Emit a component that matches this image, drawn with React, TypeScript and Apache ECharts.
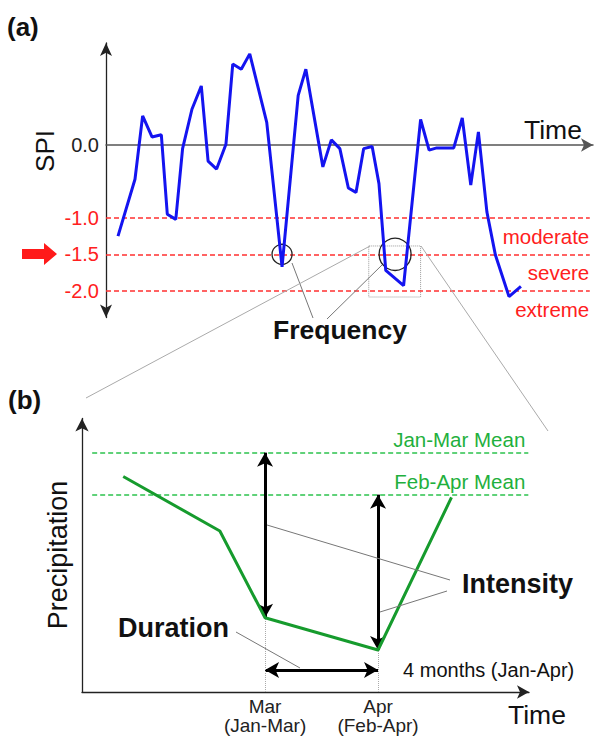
import React, { useEffect, useRef } from "react";
import * as echarts from "echarts";

// ---------- Panel (a): SPI time series ----------
const spiTime = [
  0, 2.0, 2.9, 4.0, 5.1, 5.8, 6.8, 7.6, 8.7, 9.8, 10.6, 11.6, 12.7, 13.5, 14.5,
  15.5, 17.5, 19.3, 21.2, 22.1, 24.1, 25.1, 26.1, 27.1, 28.0, 28.9, 29.9, 30.7,
  31.5, 33.6, 35.6, 36.6, 37.5, 39.5, 40.5, 41.5, 42.4, 43.4, 44.4, 46.0, 47.4,
];
const spiValue = [
  -1.25, -0.47, 0.4, 0.11, 0.14, -0.95, -1.02, -0.05, 0.49, 0.81, -0.22, -0.33,
  0.01, 1.11, 1.04, 1.25, 0.31, -1.67, 0.68, 1.04, -0.3, 0.07, -0.05, -0.59,
  -0.65, -0.05, -0.02, -0.53, -1.72, -1.93, 0.35, -0.07, -0.04, -0.04, 0.37,
  -0.55, 0.18, -0.92, -1.51, -2.08, -1.94,
];
const thresholds = [-1.0, -1.5, -2.0];
const thresholdLabels = ["-1.0", "-1.5", "-2.0"];
const zeroLabel = "0.0";
const classNames = ["moderate", "severe", "extreme"];
const classLabelY = [-1.25, -1.75, -2.25];
const eventTimes = [19.3, 32.6];
const eventCircleSizes = [20, 32];
const eventLevel = -1.5;
const zoomBoxT = [29.5, 35.6];
const zoomBoxY = [-1.385, -2.085];

// ---------- Panel (b): precipitation ----------
const precipTime = [1.745, 2.6, 3, 4, 4.65];
const precipValue = [7.7, 5.75, 2.65, 1.5, 6.95];
const meanNames = ["Jan-Mar Mean", "Feb-Apr Mean"];
const meanValues = [8.55, 7.05];
const monthTimes = [3, 4];
const monthLabels = ["Mar\n(Jan-Mar)", "Apr\n(Feb-Apr)"];
const durationY = 0.79;
const durationLabel = "4 months (Jan-Apr)";

const FONT = "'Liberation Sans', Arial, Helvetica, sans-serif";

export default function App() {
  const ref = useRef<HTMLDivElement>(null);

  useEffect(() => {
    document.body.style.margin = "0";
    if (!ref.current) return;
    const chart = echarts.init(ref.current, undefined, { renderer: "svg" });

    const aMin = -1.41,
      aMax = 55.88;
    const redEnd = 55.5;
    const bMin = 1.38,
      bMax = 5.336;

    const spiData = spiTime.map((t, i) => [t, spiValue[i]]);
    const precipData = precipTime.map((t, i) => [t, precipValue[i]]);
    const precipAt = (t: number) => precipValue[precipTime.indexOf(t)];

    const txt = (
      text: string,
      x: number,
      y: number,
      size: number,
      opts: any = {}
    ) => ({
      type: "text",
      x,
      y,
      rotation: opts.rotation || 0,
      z: 100,
      style: {
        text,
        font: `${opts.bold ? "bold " : ""}${size}px ${FONT}`,
        fill: opts.fill || "#111",
        align: opts.align || "left",
        verticalAlign: "middle",
        textAlign: opts.align || "left",
        textVerticalAlign: "middle",
      },
    });
    const ln = (x1: number, y1: number, x2: number, y2: number, stroke = "#8a8a8a") => ({
      type: "line",
      z: 100,
      shape: { x1, y1, x2, y2 },
      style: { stroke, lineWidth: 1 },
    });

    const option: any = {
      animation: false,
      textStyle: { fontFamily: FONT },
      grid: [
        { left: 106, top: 43, width: 487, height: 274.5 },
        { left: 82, top: 418.5, width: 447, height: 273.5 },
      ],
      xAxis: [
        {
          type: "value",
          gridIndex: 0,
          min: aMin,
          max: aMax,
          axisLine: {
            show: true,
            onZero: true,
            symbol: ["none", "arrow"],
            symbolSize: [10, 12],
            lineStyle: { color: "#555", width: 1.5 },
          },
          axisTick: { show: false },
          axisLabel: { show: false },
          splitLine: { show: false },
        },
        {
          type: "value",
          gridIndex: 1,
          min: bMin,
          max: bMax,
          axisLine: {
            show: true,
            onZero: true,
            symbol: ["none", "arrow"],
            symbolSize: [10, 12],
            lineStyle: { color: "#222", width: 1.3 },
          },
          axisTick: { show: false },
          axisLabel: { show: false },
          splitLine: { show: false },
        },
      ],
      yAxis: [
        {
          type: "value",
          gridIndex: 0,
          min: -2.366,
          max: 1.399,
          axisLine: {
            show: true,
            onZero: false,
            symbol: ["arrow", "arrow"],
            symbolSize: [9, 13],
            lineStyle: { color: "#222", width: 1.3 },
          },
          axisTick: { show: false },
          axisLabel: { show: false },
          splitLine: { show: false },
        },
        {
          type: "value",
          gridIndex: 1,
          min: 0,
          max: 9.77,
          axisLine: {
            show: true,
            onZero: false,
            symbol: ["none", "arrow"],
            symbolSize: [10, 13],
            lineStyle: { color: "#222", width: 1.3 },
          },
          axisTick: { show: false },
          axisLabel: { show: false },
          splitLine: { show: false },
        },
      ],
      series: [
        {
          type: "line",
          xAxisIndex: 0,
          yAxisIndex: 0,
          data: spiData,
          symbol: "none",
          z: 5,
          lineStyle: { color: "#1414f0", width: 3 },
          markLine: {
            silent: true,
            symbol: "none",
            label: { show: false },
            data: [
              ...thresholds.map((v, i) => [
                {
                  coord: [aMin, v],
                  label: {
                    show: true,
                    position: "start",
                    formatter: thresholdLabels[i],
                    color: "#ff2020",
                    fontSize: 20,
                    distance: 7,
                  },
                  lineStyle: { color: "#ff3030", type: [5, 3], width: 1.5 },
                },
                { coord: [redEnd, v] },
              ]),
              [
                {
                  coord: [aMin, 0],
                  label: {
                    show: true,
                    position: "start",
                    formatter: zeroLabel,
                    color: "#222",
                    fontSize: 20,
                    distance: 7,
                  },
                  lineStyle: { color: "rgba(0,0,0,0)", width: 0 },
                },
                { coord: [aMin + 0.5, 0] },
              ],
            ],
          },
          markPoint: {
            silent: true,
            symbol: "circle",
            label: { show: false },
            itemStyle: { color: "rgba(0,0,0,0)", borderColor: "#222", borderWidth: 1.3 },
            data: eventTimes.map((t, i) => ({
              coord: [t, eventLevel],
              symbolSize: eventCircleSizes[i],
            })),
          },
        },
        {
          type: "line",
          xAxisIndex: 0,
          yAxisIndex: 0,
          data: [],
          markPoint: {
            silent: true,
            symbol: "circle",
            symbolSize: 1,
            itemStyle: { color: "rgba(0,0,0,0)" },
            label: {
              show: true,
              position: "left",
              distance: 0,
              color: "#ff2020",
              fontSize: 20.5,
            },
            data: classNames.map((n, i) => ({
              coord: [redEnd, classLabelY[i]],
              label: { formatter: n },
            })),
          },
          markArea: {
            silent: true,
            itemStyle: {
              color: "rgba(0,0,0,0)",
              borderColor: "#999",
              borderWidth: 1,
              borderType: "dotted",
            },
            data: [
              [
                { coord: [zoomBoxT[0], zoomBoxY[0]] },
                { coord: [zoomBoxT[1], zoomBoxY[1]] },
              ],
            ],
          },
        },
        {
          type: "line",
          xAxisIndex: 1,
          yAxisIndex: 1,
          data: precipData,
          symbol: "none",
          z: 5,
          lineStyle: { color: "#169b2d", width: 3 },
          markLine: {
            silent: true,
            symbol: "none",
            label: { show: false },
            data: meanValues.map((v, i) => [
              {
                coord: [1.47, v],
                label: {
                  show: true,
                  position: "insideEndTop",
                  formatter: meanNames[i],
                  color: "#1fb03d",
                  fontSize: 20.5,
                  distance: 3,
                },
                lineStyle: { color: "#2cc24e", type: [5, 3], width: 1.5 },
              },
              { coord: [5.33, v] },
            ]),
          },
        },
        {
          type: "line",
          xAxisIndex: 1,
          yAxisIndex: 1,
          data: [],
          z: 6,
          markLine: {
            silent: true,
            symbol: ["arrow", "arrow"],
            symbolSize: [12, 14],
            label: { show: false },
            lineStyle: { color: "#000", width: 3, type: "solid" },
            data: [
              [{ coord: [monthTimes[0], meanValues[0]] }, { coord: [monthTimes[0], precipAt(monthTimes[0])] }],
              [{ coord: [monthTimes[1], meanValues[1]] }, { coord: [monthTimes[1], precipAt(monthTimes[1])] }],
              [
                {
                  coord: [monthTimes[0], durationY],
                  label: {
                    show: true,
                    position: "end",
                    formatter: durationLabel,
                    color: "#111",
                    fontSize: 20,
                    distance: 25,
                  },
                },
                { coord: [monthTimes[1], durationY] },
              ],
            ],
          },
        },
        {
          type: "line",
          xAxisIndex: 1,
          yAxisIndex: 1,
          data: [],
          z: 4,
          markLine: {
            silent: true,
            symbol: "none",
            label: { show: false },
            lineStyle: { color: "#aaa", type: "dotted", width: 1 },
            data: monthTimes.map((t, i) => [
              {
                coord: [t, 0],
                label: {
                  show: true,
                  position: "start",
                  formatter: monthLabels[i],
                  color: "#222",
                  fontSize: 19,
                  lineHeight: 19,
                  distance: 5,
                },
              },
              { coord: [t, precipAt(t)] },
            ]),
          },
        },
      ],
      graphic: [
        txt("(a)", 7, 27, 26, { bold: true }),
        txt("(b)", 8, 400, 26, { bold: true }),
        txt("SPI", 45, 151, 26, { rotation: Math.PI / 2, align: "center" }),
        txt("Time", 524, 130, 26.5),
        txt("Frequency", 340, 330, 26.5, { bold: true, align: "center" }),
        txt("Precipitation", 58, 555, 27, { rotation: Math.PI / 2, align: "center" }),
        txt("Duration", 118, 628, 27, { bold: true }),
        txt("Intensity", 462, 584, 27, { bold: true }),
        txt("Time", 508, 715, 26.5),
        {
          type: "polygon",
          z: 100,
          shape: {
            points: [
              [22, 249],
              [44, 249],
              [44, 243],
              [57, 254],
              [44, 265],
              [44, 259],
              [22, 259],
            ],
          },
          style: { fill: "#ff1a1a" },
        },
        ln(292, 263, 313, 318, "#777"),
        ln(382, 265, 327, 319, "#777"),
        ln(370, 246, 86, 398, "#aaa"),
        ln(421, 246, 548, 431, "#aaa"),
        ln(450, 580, 267, 525, "#777"),
        ln(447, 591, 380, 612, "#777"),
        ln(236, 632, 300, 668, "#777"),
      ],
    };

    chart.setOption(option);
    return () => chart.dispose();
  }, []);

  return <div ref={ref} style={{ width: 600, height: 738 }} />;
}
